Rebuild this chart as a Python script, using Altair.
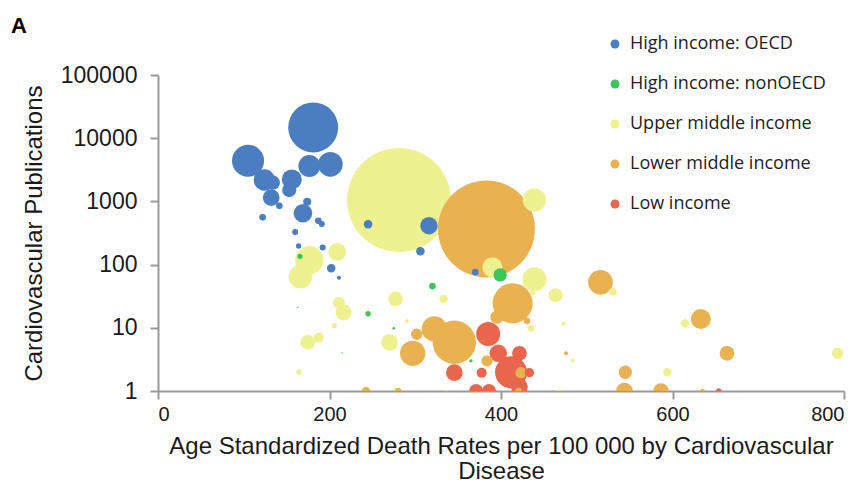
import altair as alt
import pandas as pd

# Income groups
groups = ["High income: OECD", "High income: nonOECD", "Upper middle income",
          "Lower middle income", "Low income"]
colors = ["#4a7ec0", "#3cc55a", "#eef190", "#e9b150", "#e9654b"]

# High income: OECD  (death rate, publications, bubble weight)
oecd_x = [181, 105, 201, 176.5, 156, 153, 124, 134, 132, 141.5, 122, 169, 174, 187, 191,
          245, 316, 306, 370, 160, 164, 192, 202, 211, 163]
oecd_y = [14800, 4400, 3860, 3630, 2230, 1510, 2180, 1980, 1150, 850, 560, 650, 990, 495, 440,
          435, 413, 162, 76, 328, 197, 187, 87.5, 62, 21]
oecd_s = [312, 128, 76, 60, 50, 25, 57, 25, 35, 5.5, 5.5, 43, 8, 5.5, 4.5,
          9, 38, 9, 5.5, 4.5, 3.6, 4.5, 9, 2, 0.2]

# High income: nonOECD
non_x = [165.6, 245, 320, 275, 365, 399, 214.6]
non_y = [135, 16.7, 45.7, 9.8, 3, 68.5, 4]
non_s = [3.6, 3.6, 5.5, 0.9, 1.4, 22, 0.3]

# Upper middle income
up_x = [281, 439, 209, 176.5, 166, 211, 216.5, 205.6, 174.6, 187.4, 164.4, 277, 333, 290.4,
        270, 390, 439, 463.7, 435, 472.7, 530.6, 437, 614.6, 483.6, 792.6, 594, 468.6, 336]
up_y = [1050, 1050, 159, 118, 64.5, 25, 17.6, 10.8, 5.9, 7, 2, 28.6, 28.6, 12.8,
        5.9, 90.6, 58.5, 32.7, 9.8, 11.6, 37.3, 36, 11.8, 3, 3.95, 1.98, 1, 1]
up_s = [1350, 68, 40, 100, 68, 18, 32, 3.6, 27, 12.5, 3.6, 27, 9, 2,
        35, 50, 72, 25, 5.5, 2, 7, 3.6, 9, 2, 16, 9, 2, 1]

# Lower middle income
low_mid_x = [383, 297, 345.6, 322.3, 301.7, 242.6, 280, 383.7, 413.6, 395.3, 430.3, 423.3,
             420.5, 475.8, 516, 633, 663.6, 545, 544, 586.6, 635]
low_mid_y = [366, 3.95, 5.9, 9.6, 7.9, 1, 1, 3, 24.4, 14.7, 12.9, 1.95,
             1, 3.95, 52.5, 13.8, 3.95, 1.98, 1, 1, 1]
low_mid_s = [1176, 80, 235, 80, 16, 8, 5.5, 16, 200, 22, 5.5, 16,
             5.5, 2, 76, 50, 27, 22, 35, 30, 2.6]

# Low income
low_x = [345.6, 377.5, 385, 396.8, 421.5, 411.7, 433, 371, 386, 421.5, 654]
low_y = [1.95, 1.95, 8, 3.95, 3.95, 1.98, 1.95, 1, 1, 1.17, 1]
low_s = [35, 12.5, 72, 38, 27, 128, 11, 25, 25, 35, 3.6]

rows = []
for g, xs, ys, ss in [
    (groups[0], oecd_x, oecd_y, oecd_s),
    (groups[1], non_x, non_y, non_s),
    (groups[2], up_x, up_y, up_s),
    (groups[3], low_mid_x, low_mid_y, low_mid_s),
    (groups[4], low_x, low_y, low_s),
]:
    for x, y, s in zip(xs, ys, ss):
        rows.append({"group": g, "rate": x, "pubs": y, "weight": s})
df = pd.DataFrame(rows)

FONT = "Liberation Sans"

points = alt.Chart(df).mark_circle(opacity=1, clip=True, strokeWidth=0).encode(
    x=alt.X("rate:Q", scale=alt.Scale(domain=[0, 800], nice=False),
            axis=alt.Axis(values=[0, 200, 400, 600, 800], grid=False,
                          title=["Age Standardized Death Rates per 100 000 by Cardiovascular",
                                 "Disease"],
                          titleFontSize=24, titleFont=FONT, titleFontWeight="normal",
                          titleColor="#1a1a1a", titleLineHeight=25,
                          titleBaseline="alphabetic", titleY=62,
                          labelFontSize=20, labelFont=FONT, labelColor="#1a1a1a",
                          labelPadding=5, domainColor="#9a9a9a", domainWidth=2,
                          tickColor="#9a9a9a", tickWidth=2, tickSize=8)),
    y=alt.Y("pubs:Q", scale=alt.Scale(type="log", domain=[1, 100000], nice=False),
            axis=alt.Axis(values=[1, 10, 100, 1000, 10000, 100000], format="d", grid=False,
                          title="Cardiovascular Publications",
                          titleFontSize=24, titleFont=FONT, titleFontWeight="normal",
                          titleColor="#1a1a1a", titleBaseline="alphabetic",
                          titleX=-117, titleY=158, titleAlign="center",
                          labelFontSize=23, labelFont=FONT, labelColor="#1a1a1a",
                          labelPadding=13, domainColor="#9a9a9a", domainWidth=2,
                          tickColor="#9a9a9a", tickWidth=2, tickSize=8)),
    size=alt.Size("weight:Q", scale=alt.Scale(domain=[0, 1000], range=[0, 8000], zero=True),
                  legend=None),
    color=alt.Color("group:N", scale=alt.Scale(domain=groups, range=colors),
                    legend=alt.Legend(orient="none", legendX=448, legendY=-40, title=None,
                                      labelFontSize=18, labelFont="Open Sans",
                                      labelColor="#222222", labelLimit=400,
                                      symbolType="circle", symbolSize=80, rowPadding=22,
                                      labelOffset=6, symbolStrokeWidth=0)),
    order=alt.Order("weight:Q", sort="descending"),
)

label = alt.Chart(pd.DataFrame({"t": ["A"]})).mark_text(
    fontSize=22, fontWeight="bold", font=FONT, align="left", baseline="alphabetic",
    color="#000000").encode(text="t:N", x=alt.value(-147), y=alt.value(-42))

chart = alt.layer(points, label).properties(
    width=686, height=316,
    autosize=alt.AutoSizeParams(type="none"),
    padding={"left": 150, "top": 67, "right": 10, "bottom": 93},
).configure_view(stroke=None)

chart.save("out.html", embed_options={"renderer": "svg", "actions": False})
